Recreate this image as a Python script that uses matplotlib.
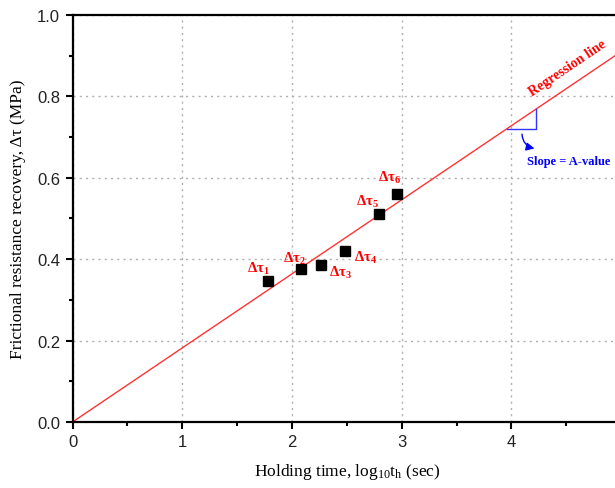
import matplotlib
matplotlib.use('Agg')
import matplotlib.pyplot as plt
import numpy as np

plt.rcParams['mathtext.fontset'] = 'custom'
plt.rcParams['mathtext.rm'] = 'Liberation Serif'
plt.rcParams['mathtext.it'] = 'Liberation Serif:italic'
plt.rcParams['mathtext.bf'] = 'Liberation Serif:bold'

# holding time (log10 s) and recovered frictional resistance (MPa)
log_th = [1.78, 2.08, 2.26, 2.48, 2.79, 2.96]
dtau = [0.346, 0.377, 0.385, 0.421, 0.512, 0.559]
point_labels = ['1', '2', '3', '4', '5', '6']

# regression through the origin
slope = 0.182
x_fit = [0.0, 5.0]

# label offsets in pixels from each square
label_offsets = [(-10, 13), (-6, 11), (20, -7), (21, -6), (-11, 13), (-8, 18)]

fig = plt.figure(figsize=(6.15, 4.89), dpi=100)
ax = fig.add_axes([0.118, 0.135, 0.892, 0.8323])

ax.plot(x_fit, [slope * v for v in x_fit], color='#ff3333', lw=1, zorder=2)
ax.plot(log_th, dtau, 's', color='black', markersize=7.5, zorder=3)

for x, y, lab, off in zip(log_th, dtau, point_labels, label_offsets):
    ax.annotate('Δτ$_{\\mathbf{%s}}$' % lab, (x, y), xytext=off,
                textcoords='offset pixels', ha='center', va='center',
                color='red', fontsize=10.5, fontweight='bold',
                family='Liberation Serif')

# slope triangle
x0, x1 = 3.96, 4.225
ax.plot([x0, x1, x1], [slope * x0, slope * x0, slope * x1], color='#3333ff', lw=1)
ax.annotate('', xy=(4.235, 0.671), xytext=(4.095, 0.714),
            arrowprops=dict(arrowstyle='-|>', color='blue', lw=1,
                            connectionstyle='arc3,rad=0.45', mutation_scale=12))
ax.text(4.14, 0.641, 'Slope = A-value', color='blue', fontsize=9,
        fontweight='bold', family='Liberation Serif', ha='left', va='center')
ax.text(4.21, 0.797, 'Regression line', color='red', fontsize=10,
        fontweight='bold', family='Liberation Serif', ha='left', va='bottom',
        rotation=34, rotation_mode='anchor')

ax.set_xlim(0, 5)
ax.set_ylim(0, 1.0)
ax.set_xticks([0, 1, 2, 3, 4, 5])
ax.set_xticklabels(['0', '1', '2', '3', '4', ''])
ax.set_xticks(np.arange(0.5, 5, 1.0), minor=True)
ax.set_yticks([0.0, 0.2, 0.4, 0.6, 0.8, 1.0])
ax.set_yticklabels(['0.0', '0.2', '0.4', '0.6', '0.8', '1.0'])
ax.set_yticks(np.arange(0.1, 1.0, 0.2), minor=True)

ax.grid(True, which='major', color='#b0b0b0', linestyle=(0, (1.5, 3)), lw=1)
for s in ax.spines.values():
    s.set_linewidth(1.6)
ax.tick_params(which='major', direction='out', length=5, width=1.5,
               labelsize=12, labelcolor='#222222', pad=4)
ax.tick_params(which='minor', direction='out', length=3, width=1.5)
for lab in ax.get_xticklabels() + ax.get_yticklabels():
    lab.set_family('Liberation Sans')

ax.set_xlabel('Holding time, log$_{\\rm 10}$t$_{\\rm h}$ (sec)',
              family='Liberation Serif', fontsize=12.5, labelpad=8)
ax.set_ylabel('Frictional resistance recovery, Δτ (MPa)',
              family='Liberation Serif', fontsize=12.5, labelpad=8)

fig.savefig('out.png', dpi=100)
